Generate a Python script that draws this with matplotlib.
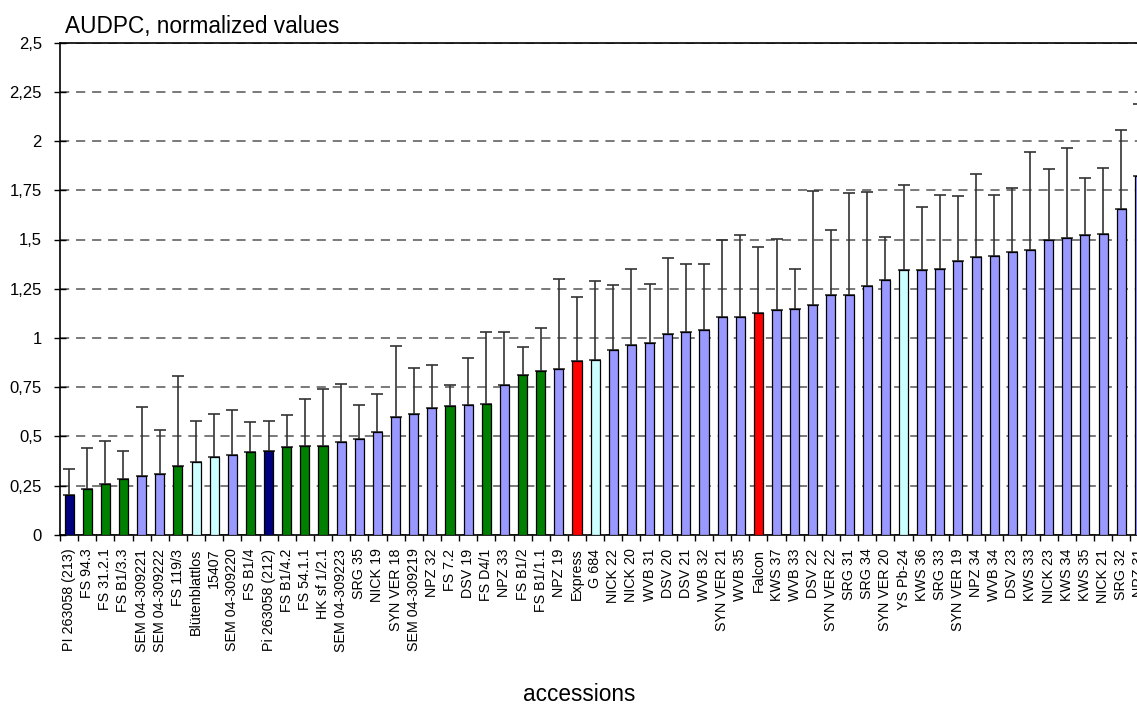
import matplotlib
matplotlib.use('Agg')
import matplotlib.pyplot as plt
import numpy as np

plt.rcParams['font.family'] = ['Liberation Sans', 'DejaVu Sans']

# accessions sorted by normalized AUDPC
accessions = ['PI 263058 (213)', 'FS 94.3', 'FS 31.2.1', 'FS B1/3.3', 'SEM 04-309221',
              'SEM 04-309222', 'FS 119/3', 'Blütenblattlos', '15407', 'SEM 04-309220',
              'FS B1/4', 'Pi 263058 (212)', 'FS B1/4.2', 'FS 54.1.1', 'HK sf 1/2.1',
              'SEM 04-309223', 'SRG 35', 'NICK 19', 'SYN VER 18', 'SEM 04-309219',
              'NPZ 32', 'FS 7.2', 'DSV 19', 'FS D4/1', 'NPZ 33',
              'FS B1/2', 'FS B1/1.1', 'NPZ 19', 'Express', 'G 684',
              'NICK 22', 'NICK 20', 'WVB 31', 'DSV 20', 'DSV 21',
              'WVB 32', 'SYN VER 21', 'WVB 35', 'Falcon', 'KWS 37',
              'WVB 33', 'DSV 22', 'SYN VER 22', 'SRG 31', 'SRG 34',
              'SYN VER 20', 'YS Pb-24', 'KWS 36', 'SRG 33', 'SYN VER 19',
              'NPZ 34', 'WVB 34', 'DSV 23', 'KWS 33', 'NICK 23',
              'KWS 34', 'KWS 35', 'NICK 21', 'SRG 32', 'NPZ 31']

audpc = [0.200, 0.233, 0.258, 0.284, 0.297, 0.307, 0.351, 0.371, 0.394, 0.406,
         0.419, 0.424, 0.445, 0.450, 0.450, 0.473, 0.485, 0.523, 0.597, 0.611,
         0.644, 0.652, 0.659, 0.666, 0.759, 0.813, 0.834, 0.844, 0.881, 0.888,
         0.939, 0.963, 0.976, 1.019, 1.032, 1.039, 1.107, 1.107, 1.126, 1.144,
         1.149, 1.167, 1.218, 1.218, 1.262, 1.294, 1.343, 1.343, 1.348, 1.392,
         1.411, 1.418, 1.436, 1.448, 1.499, 1.506, 1.523, 1.529, 1.653, 1.821]

sd = [0.135, 0.210, 0.220, 0.140, 0.350, 0.227, 0.457, 0.208, 0.220, 0.227,
      0.153, 0.155, 0.164, 0.240, 0.290, 0.295, 0.173, 0.190, 0.360, 0.234,
      0.216, 0.110, 0.241, 0.366, 0.273, 0.143, 0.215, 0.456, 0.326, 0.399,
      0.328, 0.388, 0.299, 0.387, 0.343, 0.336, 0.392, 0.416, 0.336, 0.360,
      0.202, 0.578, 0.328, 0.516, 0.479, 0.217, 0.435, 0.324, 0.380, 0.329,
      0.422, 0.310, 0.324, 0.498, 0.359, 0.457, 0.288, 0.336, 0.403, 0.369]

# P = PI lines, F = FS lines, W = wild / other, C = check varieties, B = breeding lines
group = ['P', 'F', 'F', 'F', 'B', 'B', 'F', 'W', 'W', 'B',
         'F', 'P', 'F', 'F', 'F', 'B', 'B', 'B', 'B', 'B',
         'B', 'F', 'B', 'F', 'B', 'F', 'F', 'B', 'C', 'W',
         'B', 'B', 'B', 'B', 'B', 'B', 'B', 'B', 'C', 'B',
         'B', 'B', 'B', 'B', 'B', 'B', 'W', 'B', 'B', 'B',
         'B', 'B', 'B', 'B', 'B', 'B', 'B', 'B', 'B', 'B']

group_colors = {'P': '#000080', 'F': '#008000', 'W': '#CCFFFF',
                'C': '#FF0000', 'B': '#9999FF'}

x = np.arange(len(accessions))
colors = [group_colors[g] for g in group]

fig = plt.figure(figsize=(11.37, 7.11), dpi=100)
# axes runs slightly past the right edge of the figure
ax = fig.add_axes([60 / 1137, 176.3 / 711, 1088.4 / 1137, 492 / 711])

ax.set_axisbelow(True)
ax.yaxis.grid(True, linestyle=(0, (6, 4.5)), color='#555555', linewidth=1.1)

ax.bar(x, audpc, width=0.5, color=colors, edgecolor='black', linewidth=0.9, zorder=3)
ax.errorbar(x, audpc, yerr=[np.zeros(len(sd)), sd], fmt='none', ecolor='#333333',
            elinewidth=1.2, capsize=4.2, capthick=1.2, zorder=2)

ax.set_xlim(-0.5, len(accessions) - 0.5)
ax.set_ylim(0, 2.5)
ax.set_yticks(np.arange(0, 2.51, 0.25))
ax.set_yticklabels(['0', '0,25', '0,5', '0,75', '1', '1,25', '1,5', '1,75',
                    '2', '2,25', '2,5'], fontsize=12)
ax.tick_params(axis='y', direction='inout', length=8, width=1, pad=9)

ax.set_xticks(x)
ax.set_xticklabels(accessions, rotation=90, fontsize=10.3)
ax.set_xticks(np.arange(-0.5, len(accessions), 1), minor=True)
ax.tick_params(axis='x', which='major', length=0, pad=10)
ax.tick_params(axis='x', which='minor', direction='out', length=4, width=1)

for s in ax.spines.values():
    s.set_linewidth(1.2)
    s.set_color('black')

fig.text(65 / 1137, 1 - 33 / 711, 'AUDPC, normalized values', fontsize=16.3,
         ha='left', va='baseline')
fig.text(579 / 1137, 1 - 701 / 711, 'accessions', fontsize=16.3,
         ha='center', va='baseline')

fig.savefig('out.png', dpi=100)
